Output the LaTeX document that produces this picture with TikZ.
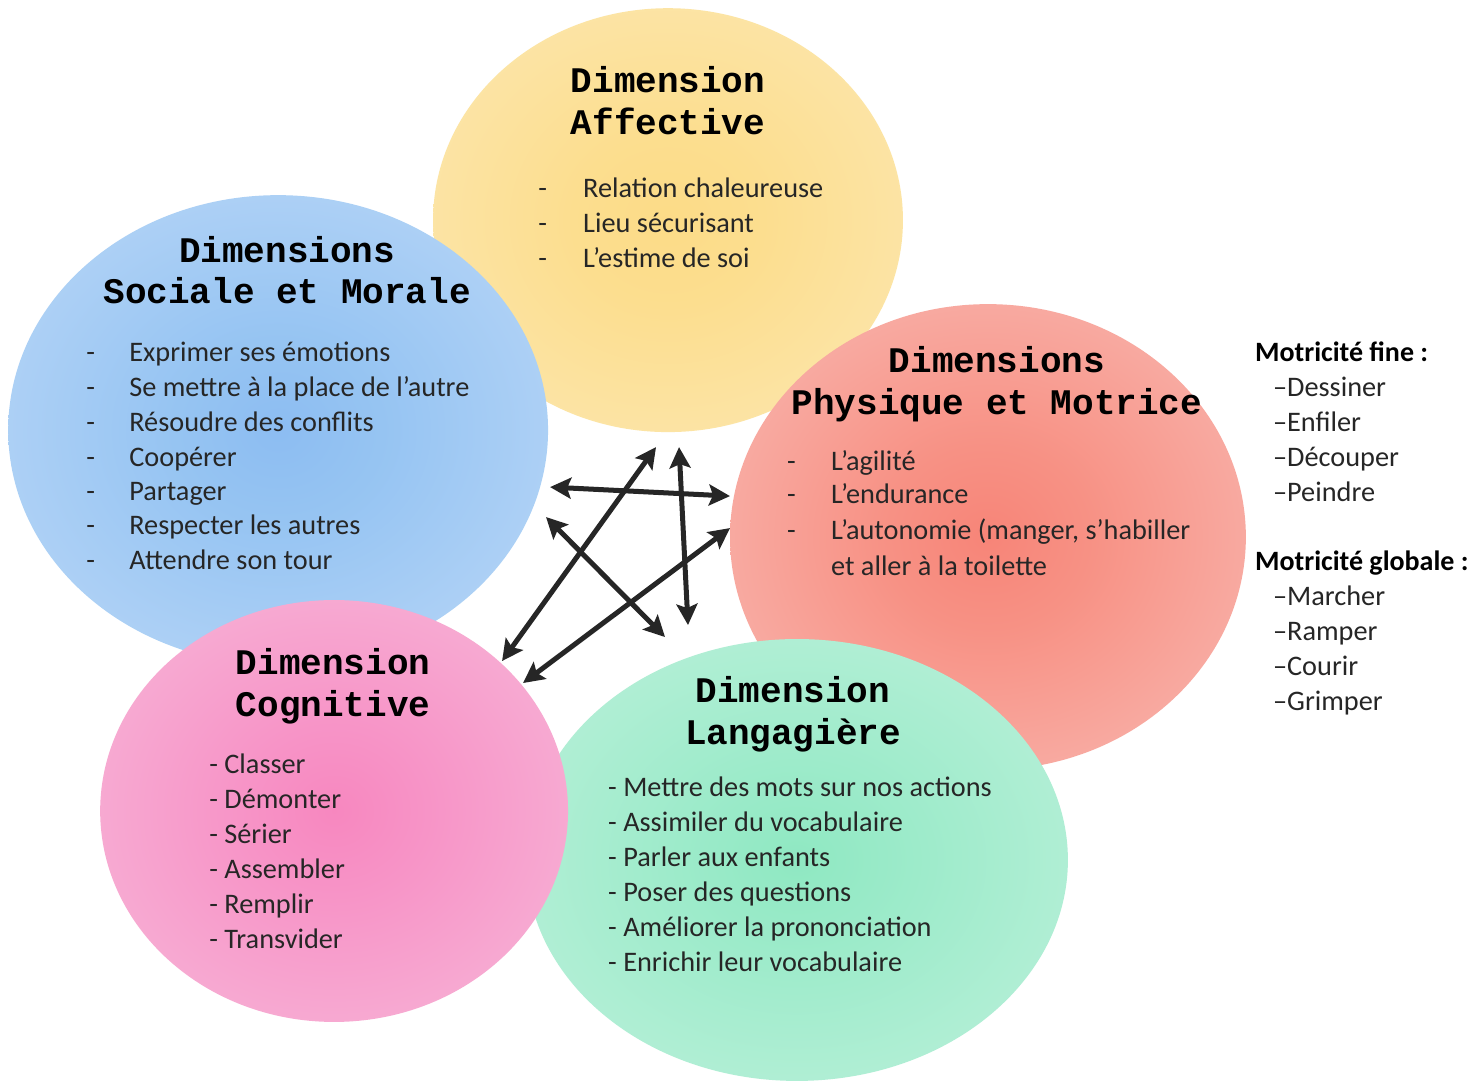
\documentclass[tikz,border=0pt]{standalone}
\usepackage{fontspec}
\setmainfont{Carlito}
\newfontfamily\monofont{Liberation Mono}
\usetikzlibrary{arrows.meta}
% soft glow for each dimension
\pgfdeclareradialshading{affglow}{\pgfpoint{0bp}{0bp}}{rgb(0bp)=(0.99,0.86,0.53); rgb(10bp)=(0.99,0.87,0.56); rgb(50bp)=(0.99,0.93,0.78)}
\pgfdeclareradialshading{socglow}{\pgfpoint{0bp}{0bp}}{rgb(0bp)=(0.55,0.74,0.95); rgb(10bp)=(0.59,0.77,0.95); rgb(50bp)=(0.82,0.89,0.98)}
\pgfdeclareradialshading{phyglow}{\pgfpoint{0bp}{0bp}}{rgb(0bp)=(0.97,0.52,0.47); rgb(10bp)=(0.97,0.57,0.52); rgb(50bp)=(0.98,0.82,0.81)}
\pgfdeclareradialshading{cogglow}{\pgfpoint{0bp}{0bp}}{rgb(0bp)=(0.97,0.53,0.75); rgb(10bp)=(0.97,0.58,0.78); rgb(50bp)=(0.97,0.80,0.89)}
\pgfdeclareradialshading{lanpglow}{\pgfpoint{0bp}{0bp}}{rgb(0bp)=(0.56,0.91,0.76); rgb(10bp)=(0.61,0.92,0.79); rgb(50bp)=(0.82,0.96,0.90)}

\begin{document}
\begin{tikzpicture}[x=1pt,y=-1pt,
  dimtitle/.style={font=\monofont\bfseries\fontsize{36}{42}\selectfont, align=center, inner sep=0pt},
  listtext/.style={font=\fontsize{28.3}{35}\selectfont, anchor=west, inner sep=0pt, text height=0.7em, text depth=0.2em, yshift=-7pt, text=black!85},
  listhead/.style={listtext, font=\bfseries\fontsize{28}{35}\selectfont, text=black},
  dimarrow/.style={line width=5pt, color=black!85, {Stealth[length=21pt,width=21pt,inset=4pt]}-{Stealth[length=21pt,width=21pt,inset=4pt]}}]
\filldraw[color=white] (0,0) rectangle (1482,1082);
\useasboundingbox (0,0) rectangle (1482,1082);
% Drawing circles
\shade[shading=affglow] (668,220) ellipse [x radius=235pt, y radius=212pt];
\shade[shading=socglow] (278,430) ellipse [x radius=270pt, y radius=235pt];
\shade[shading=phyglow] (988,537) ellipse [x radius=258pt, y radius=233pt];
\shade[shading=lanpglow] (797,860) ellipse [x radius=271pt, y radius=221pt];
\shade[shading=cogglow] (334,811) ellipse [x radius=234pt, y radius=211pt];
% Dimension Affective
\node[dimtitle] (aff-title) at (668,100) {Dimension\\Affective};
\node[listtext] (aff-1) at (538,188) {\makebox[45pt][l]{-}Relation chaleureuse};
\node[listtext] (aff-2) at (538,223) {\makebox[45pt][l]{-}Lieu sécurisant};
\node[listtext] (aff-3) at (538,258) {\makebox[45pt][l]{-}L’estime de soi};
% Dimensions Sociale et Morale
\node[dimtitle] (soc-title) at (287,270) {Dimensions\\Sociale et Morale};
\node[listtext] (soc-1) at (86,352) {\makebox[43pt][l]{-}Exprimer ses émotions};
\node[listtext] (soc-2) at (86,387) {\makebox[43pt][l]{-}Se mettre à la place de l’autre};
\node[listtext] (soc-3) at (86,422) {\makebox[43pt][l]{-}Résoudre des conflits};
\node[listtext] (soc-4) at (86,457) {\makebox[43pt][l]{-}Coopérer};
\node[listtext] (soc-5) at (86,491) {\makebox[43pt][l]{-}Partager};
\node[listtext] (soc-6) at (86,525) {\makebox[43pt][l]{-}Respecter les autres};
\node[listtext] (soc-7) at (86,560) {\makebox[43pt][l]{-}Attendre son tour};
% Dimensions Physique et Motrice
\node[dimtitle] (phy-title) at (997,384) {Dimensions\\Physique et Motrice};
\node[listtext] (phy-1) at (787,461) {\makebox[44pt][l]{-}L’agilité};
\node[listtext] (phy-2) at (787,494) {\makebox[44pt][l]{-}L’endurance};
\node[listtext] (phy-3) at (787,530) {\makebox[44pt][l]{-}L’autonomie (manger, s’habiller};
\node[listtext] (phy-4) at (831,566) {et aller à la toilette};
% Dimension Cognitive
\node[dimtitle] (cog-title) at (333,686) {Dimension\\Cognitive};
\node[listtext] (cog-1) at (209,764) {- Classer};
\node[listtext] (cog-2) at (209,799) {- Démonter};
\node[listtext] (cog-3) at (209,834) {- Sérier};
\node[listtext] (cog-4) at (209,869) {- Assembler};
\node[listtext] (cog-5) at (209,904) {- Remplir};
\node[listtext] (cog-6) at (209,939) {- Transvider};
% Dimension Langagiere
\node[dimtitle] (lan-title) at (793,714) {Dimension\\Langagière};
\node[listtext] (lan-1) at (608,787) {- Mettre des mots sur nos actions};
\node[listtext] (lan-2) at (608,822) {- Assimiler du vocabulaire};
\node[listtext] (lan-3) at (608,857) {- Parler aux enfants};
\node[listtext] (lan-4) at (608,892) {- Poser des questions};
\node[listtext] (lan-5) at (608,927) {- Améliorer la prononciation};
\node[listtext] (lan-6) at (608,962) {- Enrichir leur vocabulaire};
% Motricite fine / globale
\node[listhead] (fine) at (1255,352) {Motricité fine :};
\node[listtext] (fine-1) at (1273,387) {–Dessiner};
\node[listtext] (fine-2) at (1273,422) {–Enfiler};
\node[listtext] (fine-3) at (1273,457) {–Découper};
\node[listtext] (fine-4) at (1273,492) {–Peindre};
\node[listhead] (glob) at (1255,561) {Motricité globale :};
\node[listtext] (glob-1) at (1273,596) {–Marcher};
\node[listtext] (glob-2) at (1273,631) {–Ramper};
\node[listtext] (glob-3) at (1273,666) {–Courir};
\node[listtext] (glob-4) at (1273,701) {–Grimper};
% Drawing arrows
\coordinate (soc-phy) at (550,487);
\coordinate (phy-soc) at (730,496);
\coordinate (aff-cog) at (656,447);
\coordinate (cog-aff) at (502,661);
\coordinate (aff-lan) at (679,447);
\coordinate (lan-aff) at (688,625);
\coordinate (soc-lan) at (546,517);
\coordinate (lan-soc) at (665,637);
\coordinate (phy-cog) at (730,528);
\coordinate (cog-phy) at (523,683);
\draw[dimarrow] (soc-phy) -- (phy-soc);
\draw[dimarrow] (aff-cog) -- (cog-aff);
\draw[dimarrow] (aff-lan) -- (lan-aff);
\draw[dimarrow] (soc-lan) -- (lan-soc);
\draw[dimarrow] (phy-cog) -- (cog-phy);
\end{tikzpicture}
\end{document}
